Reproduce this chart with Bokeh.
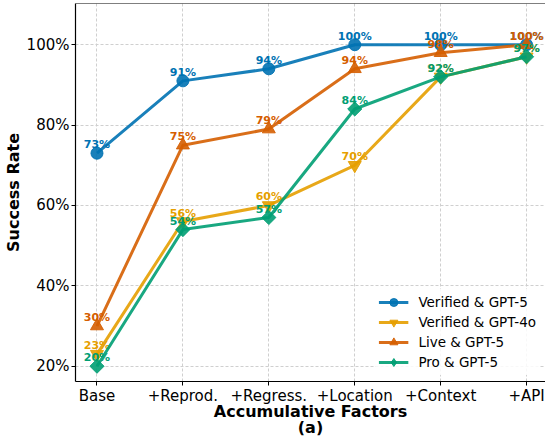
from bokeh.plotting import figure
from bokeh.models import FixedTicker, Span, Legend, LegendItem, ColumnDataSource, Range1d
from bokeh.embed import file_html
from bokeh.resources import INLINE
from bokeh.core.properties import value

factors = ["Base", "+Reprod.", "+Regress.", "+Location", "+Context", "+API"]
verified_gpt5 = [73, 91, 94, 100, 100, 100]
verified_gpt4o = [23, 56, 60, 70, 92, 97]
live_gpt5 = [30, 75, 79, 94, 98, 100]
pro_gpt5 = [20, 54, 57, 84, 92, 97]
y_ticks = [20, 40, 60, 80, 100]
y_tick_labels = ["20%", "40%", "60%", "80%", "100%"]
series_names = ["Verified & GPT-5", "Verified & GPT-4o", "Live & GPT-5", "Pro & GPT-5"]
series_values = [verified_gpt5, verified_gpt4o, live_gpt5, pro_gpt5]
colors = ["#0072B2", "#E69F00", "#D55E00", "#009E73"]
markers = ["circle", "inverted_triangle", "triangle", "square"]
marker_sizes = [12, 13, 13, 10]
marker_angles = [0, 0, 0, 0.785398]

FONT = "DejaVu Sans"
xs = list(range(len(factors)))
Y0, Y1 = 16.2, 110.25

p = figure(width=545, height=439, output_backend="svg", toolbar_location=None,
           x_range=Range1d(-0.25, 5.22), y_range=Range1d(Y0, Y1),
           min_border_left=60, min_border_right=0, min_border_top=3, min_border_bottom=40)
p.outline_line_color = None
p.background_fill_color = "white"
p.border_fill_color = "white"

# axes
p.xaxis.ticker = FixedTicker(ticks=xs)
p.xaxis.major_label_overrides = {i: f for i, f in enumerate(factors)}
p.yaxis.ticker = FixedTicker(ticks=y_ticks)
p.yaxis.major_label_overrides = {t: l for t, l in zip(y_ticks, y_tick_labels)}
for ax in (p.xaxis[0], p.yaxis[0]):
    ax.axis_line_color = "black"
    ax.axis_line_width = 1.2
    ax.major_tick_line_color = "black"
    ax.major_tick_in = 0
    ax.major_tick_out = 4
    ax.minor_tick_line_color = None
    ax.major_label_text_font = FONT
    ax.major_label_text_font_size = "15px"
    ax.major_label_text_color = "black"
    ax.axis_label_text_font = FONT
    ax.axis_label_text_font_size = "16px"
    ax.axis_label_text_font_style = "bold"
    ax.axis_label_text_color = "black"
p.xaxis.axis_label = "Accumulative Factors\n(a)"
p.xaxis.axis_label_text_line_height = 0.85
p.xaxis.major_label_standoff = 1
p.xaxis.axis_label_standoff = -6
p.yaxis.axis_label = "Success Rate"
p.yaxis.major_label_standoff = 2
p.yaxis.axis_label_standoff = 1

p.grid.grid_line_color = "#cfcfcf"
p.grid.grid_line_dash = "3 2"
p.grid.grid_line_width = 1

p.add_layout(Span(location=Y1, dimension="width", line_color="black", line_width=1.2))

items = []
for name, vals, c, m, s, a in zip(series_names, series_values, colors, markers, marker_sizes, marker_angles):
    src = ColumnDataSource(dict(x=xs, y=vals, lab=[f"{v}%" for v in vals]))
    ln = p.line("x", "y", source=src, line_color=c, line_width=3, line_alpha=0.9)
    sc = p.scatter("x", "y", source=src, marker=m, size=s, angle=a,
                   fill_color=c, line_color=c, fill_alpha=0.9, line_alpha=0.9)
    if m == "square":
        # legend-only diamond glyph, placed outside the visible ranges
        sc = p.scatter(x=[-10], y=[-10], marker="diamond", size=15,
                       fill_color=c, line_color=c, fill_alpha=0.9, line_alpha=0.9)
    p.text("x", "y", text="lab", source=src, text_color=c, text_font=value(FONT),
           text_font_size="11px", text_font_style="bold", text_align="center",
           text_baseline="bottom", y_offset=-2)
    items.append(LegendItem(label=name, renderers=[ln, sc]))

legend = Legend(items=items, location="bottom_right")
legend.label_text_font = FONT
legend.label_text_font_size = "13.5px"
legend.label_text_color = "black"
legend.glyph_width = 30
legend.glyph_height = 20
legend.label_height = 20
legend.spacing = 0
legend.padding = 3
legend.margin = 6
legend.label_standoff = 10
legend.border_line_alpha = 0
legend.background_fill_color = "white"
legend.background_fill_alpha = 0.85
p.add_layout(legend)

open("out.html", "w").write(file_html(p, INLINE))
